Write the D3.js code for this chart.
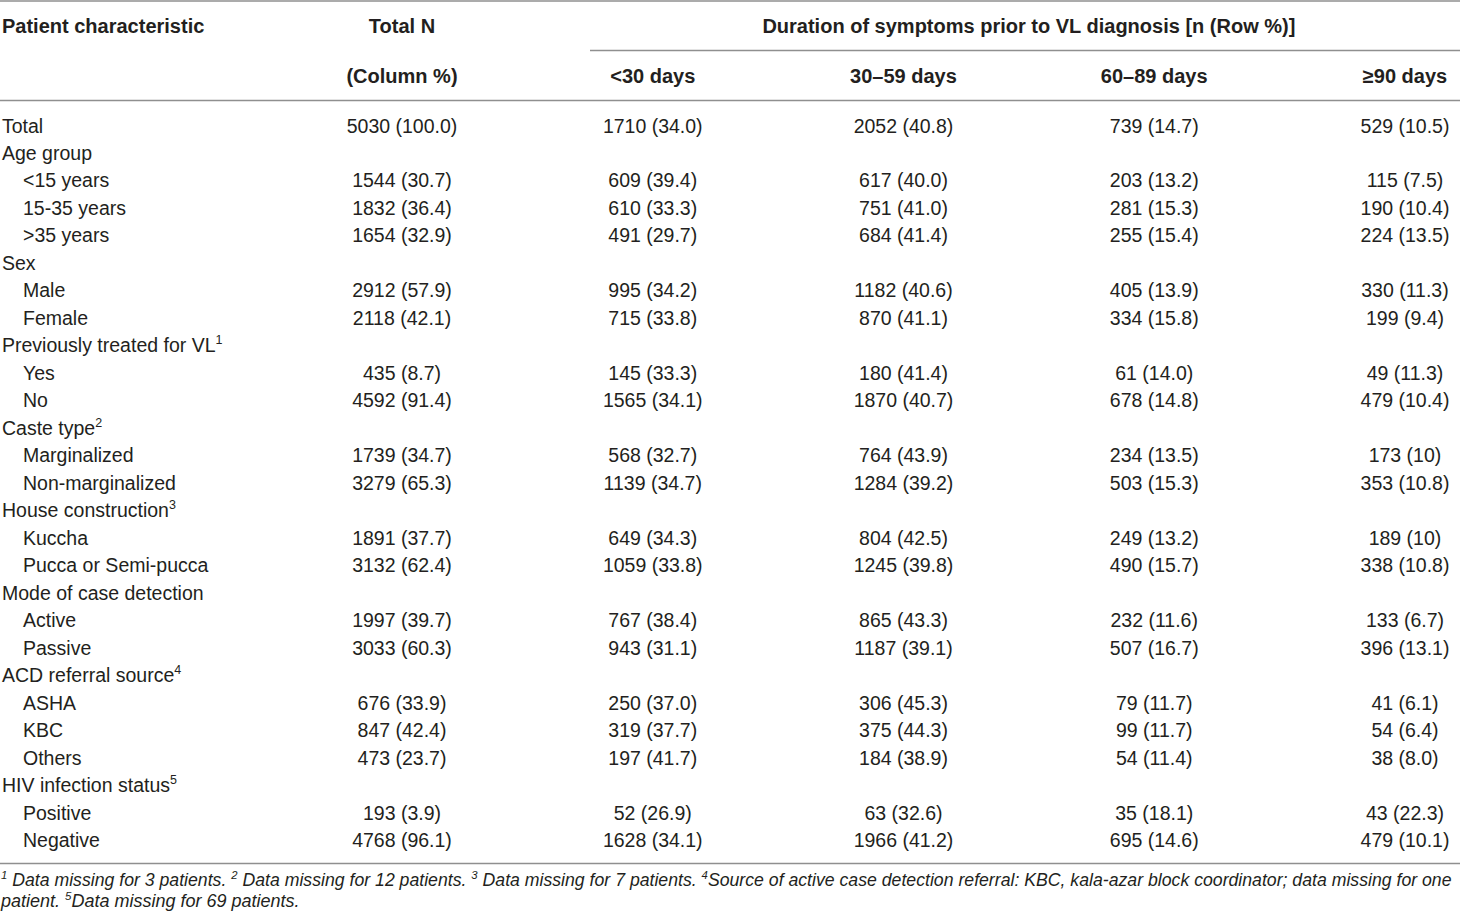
<!DOCTYPE html>
<html lang="en">
<head>
  <meta charset="UTF-8">
  <title>Duration of symptoms prior to VL diagnosis</title>
  <script src="https://d3js.org/d3.v7.min.js"></script>
  <style>
    body { margin: 0; background: #fff; }
    svg text { font-family: "Liberation Sans", Arial, sans-serif; fill: #231f20; }
  </style>
</head>
<body>
  <div id="table"></div>

  <script>
    // Row labels, indent level (0 = group heading, 1 = sub item) and footnote marks
    const rowLabels = [
      "Total", "Age group", "<15 years", "15-35 years", ">35 years",
      "Sex", "Male", "Female",
      "Previously treated for VL", "Yes", "No",
      "Caste type", "Marginalized", "Non-marginalized",
      "House construction", "Kuccha", "Pucca or Semi-pucca",
      "Mode of case detection", "Active", "Passive",
      "ACD referral source", "ASHA", "KBC", "Others",
      "HIV infection status", "Positive", "Negative"
    ];
    const rowLevel = [0, 0, 1, 1, 1, 0, 1, 1, 0, 1, 1, 0, 1, 1, 0, 1, 1, 0, 1, 1, 0, 1, 1, 1, 0, 1, 1];
    const rowSup = ["", "", "", "", "", "", "", "", "1", "", "", "2", "", "", "3", "", "", "", "", "", "4", "", "", "", "5", "", ""];

    // Cell values, one array per column ("" = heading row without values)
    const totalN = [
      "5030 (100.0)", "", "1544 (30.7)", "1832 (36.4)", "1654 (32.9)",
      "", "2912 (57.9)", "2118 (42.1)",
      "", "435 (8.7)", "4592 (91.4)",
      "", "1739 (34.7)", "3279 (65.3)",
      "", "1891 (37.7)", "3132 (62.4)",
      "", "1997 (39.7)", "3033 (60.3)",
      "", "676 (33.9)", "847 (42.4)", "473 (23.7)",
      "", "193 (3.9)", "4768 (96.1)"
    ];
    const lt30 = [
      "1710 (34.0)", "", "609 (39.4)", "610 (33.3)", "491 (29.7)",
      "", "995 (34.2)", "715 (33.8)",
      "", "145 (33.3)", "1565 (34.1)",
      "", "568 (32.7)", "1139 (34.7)",
      "", "649 (34.3)", "1059 (33.8)",
      "", "767 (38.4)", "943 (31.1)",
      "", "250 (37.0)", "319 (37.7)", "197 (41.7)",
      "", "52 (26.9)", "1628 (34.1)"
    ];
    const d30to59 = [
      "2052 (40.8)", "", "617 (40.0)", "751 (41.0)", "684 (41.4)",
      "", "1182 (40.6)", "870 (41.1)",
      "", "180 (41.4)", "1870 (40.7)",
      "", "764 (43.9)", "1284 (39.2)",
      "", "804 (42.5)", "1245 (39.8)",
      "", "865 (43.3)", "1187 (39.1)",
      "", "306 (45.3)", "375 (44.3)", "184 (38.9)",
      "", "63 (32.6)", "1966 (41.2)"
    ];
    const d60to89 = [
      "739 (14.7)", "", "203 (13.2)", "281 (15.3)", "255 (15.4)",
      "", "405 (13.9)", "334 (15.8)",
      "", "61 (14.0)", "678 (14.8)",
      "", "234 (13.5)", "503 (15.3)",
      "", "249 (13.2)", "490 (15.7)",
      "", "232 (11.6)", "507 (16.7)",
      "", "79 (11.7)", "99 (11.7)", "54 (11.4)",
      "", "35 (18.1)", "695 (14.6)"
    ];
    const ge90 = [
      "529 (10.5)", "", "115 (7.5)", "190 (10.4)", "224 (13.5)",
      "", "330 (11.3)", "199 (9.4)",
      "", "49 (11.3)", "479 (10.4)",
      "", "173 (10)", "353 (10.8)",
      "", "189 (10)", "338 (10.8)",
      "", "133 (6.7)", "396 (13.1)",
      "", "41 (6.1)", "54 (6.4)", "38 (8.0)",
      "", "43 (22.3)", "479 (10.1)"
    ];

    const columnKeys = ["total", "lt30", "d30", "d60", "ge90"];
    const columnValues = [totalN, lt30, d30to59, d60to89, ge90];
    const columnHeads = ["(Column %)", "<30 days", "30–59 days", "60–89 days", "≥90 days"];
    const spanHead = "Duration of symptoms prior to VL diagnosis [n (Row %)]";

    // footnote pieces: [superscript, text, gap before superscript]
    const footLine1 = [
      ["1", " Data missing for 3 patients.", 0], ["2", " Data missing for 12 patients.", 5],
      ["3", " Data missing for 7 patients.", 5],
      ["4", "Source of active case detection referral: KBC, kala-azar block coordinator; data missing for one", 5]
    ];
    const footLine2 = [["", "patient.", 0], ["5", "Data missing for 69 patients.", 5]];

    const width = 1460, height = 920;
    const fontSize = 19.5;
    const lineColor = "#8f8f8f";

    const svg = d3.select("#table").append("svg")
      .attr("width", width)
      .attr("height", height);

    // Column centres and row baselines
    const x = d3.scalePoint().domain(columnKeys).range([402, 1405]);
    const y = d3.scalePoint().domain(d3.range(rowLabels.length)).range([132.5, 847]);

    // Rules
    const rules = [
      { x1: 0, x2: width, y: 1 },
      { x1: 590, x2: width, y: 50.5 },
      { x1: 0, x2: width, y: 100.5 },
      { x1: 0, x2: width, y: 863.5 }
    ];
    svg.selectAll("line.rule")
      .data(rules)
      .enter()
      .append("line")
      .attr("class", "rule")
      .attr("x1", d => d.x1)
      .attr("x2", d => d.x2)
      .attr("y1", d => d.y)
      .attr("y2", d => d.y)
      .attr("stroke", lineColor)
      .attr("stroke-width", 1.3);

    // Header
    const head = svg.append("g").attr("font-weight", "bold").attr("font-size", 20);
    head.append("text").attr("x", 2).attr("y", 33).text("Patient characteristic");
    head.append("text").attr("x", x("total")).attr("y", 33).attr("text-anchor", "middle").text("Total N");
    head.append("text")
      .attr("x", (x("lt30") + x("ge90")) / 2)
      .attr("y", 33)
      .attr("text-anchor", "middle")
      .text(spanHead);
    head.selectAll("text.colhead")
      .data(columnKeys)
      .enter()
      .append("text")
      .attr("class", "colhead")
      .attr("x", d => x(d))
      .attr("y", 83)
      .attr("text-anchor", "middle")
      .text((d, i) => columnHeads[i]);

    // Row labels
    const labels = svg.append("g").attr("font-size", fontSize)
      .selectAll("text")
      .data(rowLabels)
      .enter()
      .append("text")
      .attr("x", (d, i) => rowLevel[i] ? 23 : 2)
      .attr("y", (d, i) => y(i))
      .text(d => d);
    labels.filter((d, i) => rowSup[i])
      .append("tspan")
      .attr("font-size", 12.5)
      .attr("dy", -8)
      .text(d => rowSup[rowLabels.indexOf(d)]);

    // Cells
    columnKeys.forEach((key, c) => {
      svg.append("g").attr("font-size", fontSize)
        .selectAll("text")
        .data(columnValues[c].map((v, i) => ({ v, i })).filter(d => d.v))
        .enter()
        .append("text")
        .attr("x", x(key))
        .attr("y", d => y(d.i))
        .attr("text-anchor", "middle")
        .text(d => d.v);
    });

    // Footnotes (first line squeezed horizontally to span the full width)
    function footnote(parts, yPos, fit) {
      const g = svg.append("g").attr("transform", `translate(1,${yPos})`);
      const t = g.append("text")
        .attr("font-size", 18)
        .attr("font-style", "italic");
      parts.forEach(([sup, txt, gap]) => {
        if (sup) {
          t.append("tspan").attr("font-size", 11.5).attr("dx", gap).attr("dy", -7).text(sup);
          t.append("tspan").attr("dy", 7).text(txt);
        } else {
          t.append("tspan").attr("dx", gap).text(txt);
        }
      });
      if (fit) {
        const box = t.node().getBBox();
        g.attr("transform", `translate(1,${yPos}) scale(${fit / (box.x + box.width)},1)`);
      }
    }
    footnote(footLine1, 886, 1452);
    footnote(footLine2, 907, null);
  </script>
</body>
</html>
